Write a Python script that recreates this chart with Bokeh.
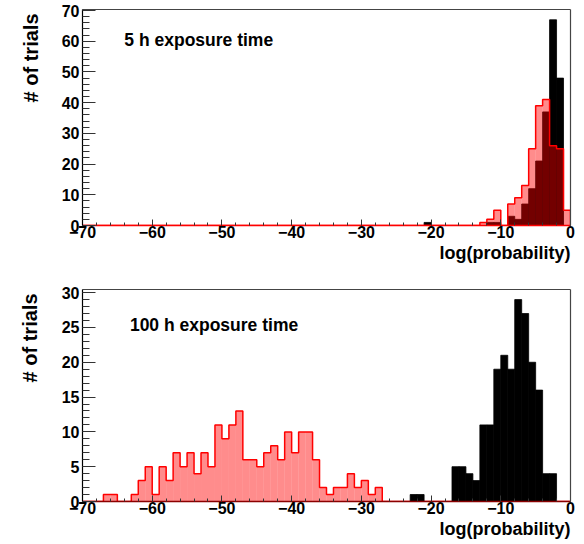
import numpy as np
from bokeh.plotting import figure
from bokeh.layouts import column
from bokeh.models import Range1d, SingleIntervalTicker, FixedTicker, Label, LinearAxis, Title
from bokeh.embed import file_html
from bokeh.resources import INLINE

X_MIN, X_MAX = -70, 0
BIN_WIDTH = 1

# ---- 5 h exposure (top panel) ----
top_black_bins = [-21, -12, -11, -9, -8, -7, -6, -5, -4, -3, -2]
top_black_counts = [1, 1, 1, 3, 2, 7, 12, 21, 37, 67, 48]
top_red_bins = [-13, -12, -11, -9, -8, -7, -6, -5, -4, -3, -2, -1]
top_red_counts = [1, 2, 5, 7, 9, 13, 25, 39, 41, 26, 25, 5]

# ---- 100 h exposure (bottom panel) ----
bot_black_bins = [-23, -22, -17, -16, -15, -14, -13, -12, -11, -10, -9, -8, -7, -6, -5, -4, -3]
bot_black_counts = [1, 1, 5, 5, 4, 3, 11, 11, 19, 21, 19, 29, 27, 20, 16, 4, 4]
bot_red_bins = [-67, -66, -63, -62, -61, -60, -59, -58, -57, -56, -55, -54, -53, -52,
                -51, -50, -49, -48, -47, -46, -45, -44, -43, -42, -41, -40, -39, -38,
                -37, -36, -35, -34, -33, -32, -31, -30, -29, -28]
bot_red_counts = [1, 1, 1, 3, 5, 1, 5, 3, 7, 5, 7, 4, 7, 5,
                  11, 9, 11, 13, 6, 6, 5, 7, 8, 6, 10, 7, 10, 10,
                  6, 2, 1, 2, 2, 4, 2, 3, 1, 2]

top_text = "5 h exposure time"
bot_text = "100 h exposure time"
x_title = "log(probability)"
y_title = "# of trials"

FONT = "Liberation Sans"
W = 584


def full_hist(bins, counts):
    edges = np.arange(X_MIN, X_MAX + BIN_WIDTH, BIN_WIDTH)
    h = np.zeros(len(edges) - 1)
    idx = ((np.array(bins) - X_MIN) // BIN_WIDTH).astype(int)
    h[idx] = counts
    return edges, h


def make_panel(ymax, y_major, height, mb_top, mb_bottom, mb_left, mb_right,
               base_color, ytitle_standoff, ytitle_offset):
    p = figure(width=W, height=height,
               x_range=Range1d(X_MIN, X_MAX), y_range=Range1d(0, ymax),
               output_backend="svg", toolbar_location=None,
               min_border_top=mb_top, min_border_bottom=mb_bottom,
               min_border_left=mb_left, min_border_right=mb_right)
    p.grid.visible = False
    p.outline_line_color = None
    p.background_fill_color = "white"
    p.border_fill_color = "white"

    xa = p.below[0]
    ya = p.left[0]
    xa.ticker = SingleIntervalTicker(interval=10, num_minor_ticks=5)
    ya.ticker = SingleIntervalTicker(interval=y_major, num_minor_ticks=5)
    for ax in (xa, ya):
        ax.major_label_text_font = FONT
        ax.major_label_text_font_style = "bold"
        ax.major_label_text_font_size = "16px"
        ax.major_label_text_color = "black"
        ax.major_tick_out = 0
        ax.minor_tick_out = 0
        ax.major_tick_line_color = "#333333"
        ax.minor_tick_line_color = "#333333"
    xa.major_tick_in = 6
    xa.minor_tick_in = 3
    ya.major_tick_in = 13
    ya.minor_tick_in = 7
    xa.major_label_standoff = 0
    ya.major_label_standoff = 3
    xa.axis_line_color = base_color
    xa.axis_line_width = 1.5
    ya.axis_line_color = "black"
    ya.axis_line_width = 1.2

    for side in ("above", "right"):
        ax = LinearAxis(ticker=FixedTicker(ticks=[]), axis_line_color="#444444",
                        axis_line_width=1.2, major_tick_line_color=None,
                        minor_tick_line_color=None, major_tick_out=0,
                        minor_tick_out=0, major_label_standoff=0,
                        major_label_text_font_size="0px", axis_label=None)
        p.add_layout(ax, side)

    # ROOT-style axis titles, flush with the end of each axis
    p.add_layout(Title(text=x_title, align="right", text_font=FONT,
                       text_font_style="bold", text_font_size="18px",
                       text_color="black", standoff=0), "below")
    p.add_layout(Title(text=y_title, align="right", vertical_align="middle",
                       text_font=FONT, text_font_style="bold",
                       text_font_size="20px", text_color="black",
                       standoff=ytitle_standoff, offset=ytitle_offset), "left")
    return p


def draw_black(p, bins, counts):
    b = np.array(bins, dtype=float)
    p.quad(left=b, right=b + BIN_WIDTH, bottom=0, top=counts,
           fill_color="black", line_color="black", line_width=0.8)


def draw_red(p, bins, counts):
    b = np.array(bins, dtype=float)
    p.quad(left=b, right=b + BIN_WIDTH, bottom=0, top=counts,
           fill_color="red", fill_alpha=0.45, line_color=None)
    edges, h = full_hist(bins, counts)
    p.step(x=edges, y=np.append(h, 0), mode="after",
           line_color="red", line_width=1.5)


# top panel: frame 77..570 x 9..225
p1 = make_panel(70.35, 10, 269, 9, 44, 77, 14, "red", 31, 4)
draw_black(p1, top_black_bins, top_black_counts)
draw_red(p1, top_red_bins, top_red_counts)
p1.add_layout(Label(x=-64.0, y=60.3, text=top_text, text_font=FONT,
                    text_font_style="bold", text_font_size="17.5px",
                    text_color="black", text_baseline="middle"))

# bottom panel: frame 80..571 x 289..501
p2 = make_panel(30.45, 5, 275, 20, 43, 80, 13, "#8b0000", 34, 4)
draw_red(p2, bot_red_bins, bot_red_counts)
draw_black(p2, bot_black_bins, bot_black_counts)
p2.add_layout(Label(x=-63.2, y=25.3, text=bot_text, text_font=FONT,
                    text_font_style="bold", text_font_size="17.5px",
                    text_color="black", text_baseline="middle"))

layout = column(p1, p2, spacing=0)
open("out.html", "w").write(file_html(layout, INLINE))
